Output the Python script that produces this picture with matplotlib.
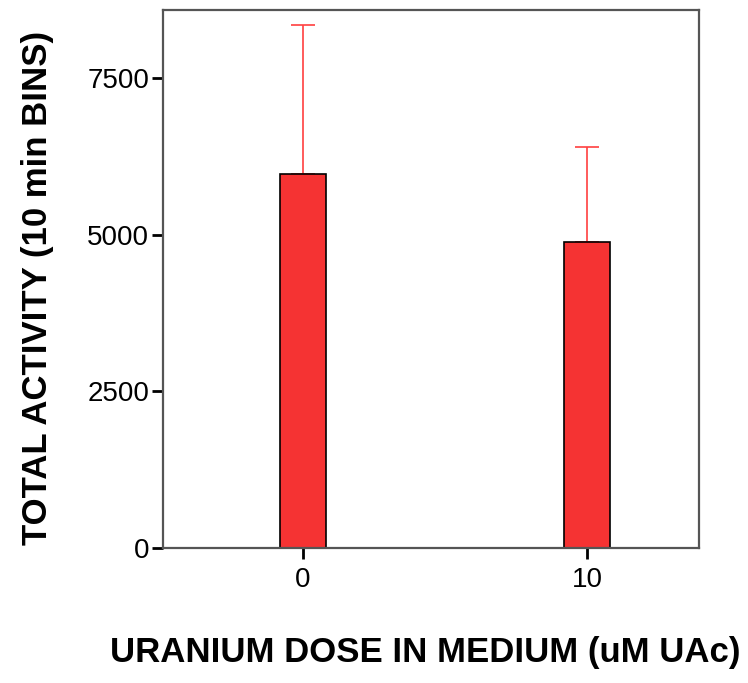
import numpy as np
import matplotlib.pyplot as plt

doses = ['0', '10']
activity = [5965, 4885]
err_upper = [2380, 1525]

plt.rcParams['font.family'] = ['Liberation Sans', 'DejaVu Sans']

fig = plt.figure(figsize=(7.48, 6.83), dpi=100)
ax = fig.add_axes([0.218, 0.1977, 0.7165, 0.7877])

x = np.arange(len(doses))
yerr = [np.zeros(len(doses)), err_upper]
ax.bar(x, activity, width=0.162, color='#f53333', edgecolor='black', linewidth=1.2, zorder=2)
ax.errorbar(x, activity, yerr=yerr, fmt='none', ecolor='#ff4040', elinewidth=1.2,
            capsize=8.3, capthick=1.2, zorder=1)

ax.set_xlim(-0.493, 1.394)
ax.set_ylim(0, 8590)
ax.set_xticks(x)
ax.set_xticklabels(doses)
ax.set_yticks([0, 2500, 5000, 7500])

for s in ax.spines.values():
    s.set_color('#555555')
    s.set_linewidth(1.6)

ax.tick_params(axis='both', direction='out', length=8, width=2, color='black', labelsize=20)
ax.tick_params(axis='y', pad=2)
ax.tick_params(axis='x', pad=6)

ax.set_xlabel('URANIUM DOSE IN MEDIUM (uM UAc)', fontsize=25, fontweight='bold', va='center')
ax.set_ylabel('TOTAL ACTIVITY (10 min BINS)', fontsize=25, fontweight='bold', va='center')
ax.xaxis.set_label_coords(0.49, -0.195)
ax.yaxis.set_label_coords(-0.235, 0.483)

plt.savefig('out.png', dpi=100)
